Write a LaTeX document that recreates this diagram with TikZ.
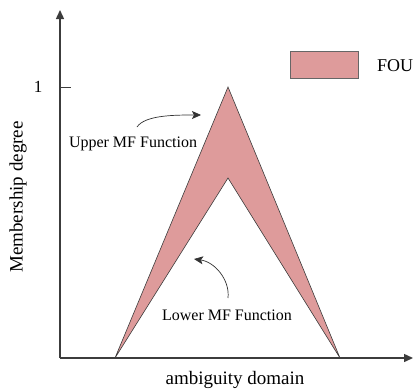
\documentclass[tikz,border=0pt]{standalone}
\usepackage{fontspec}
\setmainfont{Liberation Serif}
\usetikzlibrary{arrows.meta}
\definecolor{fouFill}{RGB}{222,155,155}
\definecolor{edge}{RGB}{60,60,60}
\tikzset{
  axis/.style={line width=1.4pt, draw=edge, -{Triangle[length=9pt,width=8pt]}},
  band/.style={fill=fouFill, draw=edge, line width=0.6pt, line join=miter},
  lbl/.style={inner sep=0pt, font=\fontsize{16}{18}\selectfont},
  biglbl/.style={inner sep=0pt, font=\fontsize{19}{21}\selectfont},
  pointer/.style={line width=0.7pt, draw=black!80, -{Stealth[length=9pt,width=8pt,inset=2pt]}}
}
\begin{document}
\begin{tikzpicture}[x=1pt,y=-1pt]
  \useasboundingbox (0,0) rectangle (414,391);
  % key points of the membership functions
  \coordinate (O) at (60,358);
  \coordinate (bl) at (115,358);
  \coordinate (br) at (340,358);
  \coordinate (up) at (228,87);
  \coordinate (lo) at (228,178);
  % footprint of uncertainty between upper and lower functions
  \draw[band] (bl) -- (up) -- (br) -- (lo) -- cycle;
  % axes
  \coordinate (ytip) at (60,10);
  \coordinate (xtip) at (413,358);
  \draw[axis] (O) -- (ytip);
  \draw[axis] (O) -- (xtip);
  % tick at membership 1
  \coordinate (t0) at (60,87);
  \coordinate (t1) at (71,87);
  \draw[line width=0.8pt, draw=edge] (t0) -- (t1);
  \node[lbl, font=\fontsize{17}{19}\selectfont] (one) at (38,87) {1};
  % axis titles
  \node[biglbl, rotate=90] (ylab) at (18,197) {Membership degree};
  \node[biglbl] (xlab) at (235,380) {ambiguity domain};
  % legend
  \node[band, minimum width=68pt, minimum height=27pt, inner sep=0pt, line width=1pt, draw=black!60] (key) at (324,65) {};
  \node[lbl, font=\fontsize{18}{20}\selectfont, anchor=west] (keytxt) at (377,66) {FOU};
  % annotations
  \node[lbl] (uptxt) at (133,144) {Upper MF Function};
  \node[lbl] (lotxt) at (227,315) {Lower MF Function};
  \coordinate (upend) at (201,115);
  \coordinate (loend) at (194,259);
  \coordinate (upstart) at (137,127);
  \coordinate (lostart) at (228,298);
  \draw[pointer] (upstart) .. controls (145,115) and (175,115) .. (upend);
  \draw[pointer] (lostart) .. controls (230,280) and (215,262) .. (loend);
\end{tikzpicture}
\end{document}
